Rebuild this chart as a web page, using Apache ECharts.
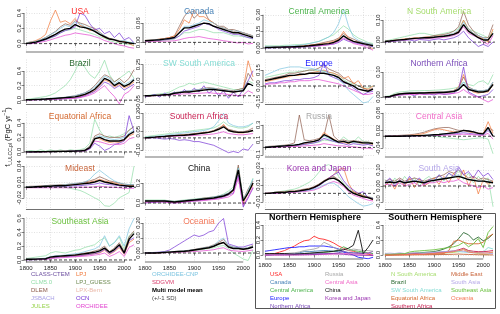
<!DOCTYPE html>
<html><head><meta charset="utf-8">
<script src="https://cdn.jsdelivr.net/npm/echarts@6/dist/echarts.min.js"></script>
<style>html,body{margin:0;padding:0;background:#fff}#c{width:500px;height:314px}</style>
</head><body><div id="c"></div>
<script>
const years = [1800,1810,1820,1830,1840,1850,1860,1870,1880,1890,1900,1910,1920,1930,1940,1950,1960,1970,1980,1990,2000,2010,2020];
const xTicks = [1800,1850,1900,1950,2000];
// model rows order for every region
const modelNames = ['CLM5.0','DLEM','LPJ','OCN','ORCHIDEE','ORCHIDEE-CNP'];

// ---- USA
const usaMean = [0.00,0.01,0.02,0.04,0.06,0.09,0.12,0.16,0.19,0.20,0.25,0.22,0.21,0.19,0.16,0.12,0.09,0.06,0.05,0.03,0.02,0.01,0.00];
const usaSd = [0.005,0.008,0.01,0.015,0.02,0.03,0.04,0.05,0.06,0.06,0.06,0.06,0.05,0.05,0.05,0.04,0.04,0.035,0.03,0.03,0.03,0.03,0.03];
const usaModels = [
 [0.0,0.01,0.02,0.03,0.05,0.07,0.1,0.14,0.17,0.18,0.2,0.18,0.16,0.14,0.12,0.09,0.07,0.04,0.02,0.01,0.0,-0.01,-0.02],
 [0.01,0.02,0.03,0.05,0.08,0.12,0.16,0.22,0.26,0.24,0.3,0.27,0.25,0.22,0.2,0.15,0.1,0.07,0.05,0.04,0.03,0.01,0.0],
 [0.01,0.02,0.04,0.07,0.12,0.3,0.44,0.28,0.3,0.26,0.33,0.24,0.22,0.17,0.19,0.12,0.08,0.06,0.05,0.02,0.03,0.0,-0.03],
 [0.0,0.0,0.01,0.03,0.05,0.08,0.1,0.14,0.17,0.19,0.22,0.4,0.37,0.26,0.18,0.2,0.13,0.16,0.08,0.14,0.05,0.08,0.01],
 [0.0,0.0,0.01,0.02,0.03,0.05,0.07,0.09,0.11,0.12,0.14,0.13,0.12,0.11,0.09,0.07,0.04,0.02,0.0,-0.02,-0.03,-0.05,-0.06],
 [0.01,0.02,0.03,0.05,0.08,0.12,0.15,0.2,0.24,0.22,0.28,0.26,0.22,0.2,0.17,0.14,0.1,0.06,0.05,0.03,0.04,0.02,0.01]];
// ---- Canada
const canMean = [0.005,0.006,0.007,0.008,0.01,0.012,0.015,0.03,0.045,0.045,0.05,0.055,0.06,0.058,0.05,0.045,0.04,0.035,0.03,0.03,0.025,0.02,0.015];
const canSd = [0.003,0.003,0.004,0.004,0.005,0.006,0.008,0.012,0.02,0.022,0.025,0.025,0.025,0.022,0.02,0.02,0.018,0.016,0.015,0.014,0.013,0.012,0.012];
const canModels = [
 [0.002,0.003,0.004,0.005,0.006,0.008,0.01,0.02,0.03,0.03,0.035,0.04,0.04,0.035,0.03,0.03,0.03,0.025,0.02,0.02,0.018,0.015,0.01],
 [0.005,0.006,0.008,0.01,0.012,0.015,0.02,0.05,0.08,0.1,0.075,0.09,0.1,0.07,0.06,0.05,0.05,0.04,0.04,0.035,0.03,0.025,0.02],
 [0.006,0.007,0.008,0.01,0.012,0.015,0.02,0.04,0.07,0.06,0.1,0.08,0.08,0.07,0.06,0.05,0.045,0.04,0.035,0.03,0.03,0.025,0.02],
 [0.004,0.005,0.006,0.007,0.008,0.01,0.012,0.02,0.035,0.04,0.045,0.05,0.06,0.055,0.05,0.04,0.035,0.03,0.025,0.025,0.02,0.015,0.012],
 [0.002,0.002,0.003,0.003,0.004,0.004,0.005,0.008,0.012,0.015,0.016,0.018,0.015,0.012,0.01,0.008,0.005,0.003,0.0,-0.002,0.0,-0.005,-0.003],
 [0.006,0.007,0.008,0.009,0.01,0.012,0.015,0.03,0.05,0.05,0.055,0.06,0.07,0.065,0.06,0.05,0.045,0.04,0.035,0.035,0.03,0.025,0.02]];
// ---- Central America
const camMean = [0.005,0.006,0.007,0.008,0.009,0.01,0.012,0.014,0.016,0.02,0.025,0.03,0.035,0.04,0.05,0.07,0.11,0.08,0.06,0.05,0.04,0.03,0.02];
const camSd = [0.003,0.003,0.003,0.003,0.004,0.004,0.005,0.006,0.007,0.008,0.01,0.012,0.015,0.018,0.025,0.035,0.05,0.04,0.03,0.025,0.02,0.02,0.02];
const camModels = [
 [0.02,0.02,0.02,0.02,0.025,0.025,0.03,0.03,0.035,0.04,0.05,0.06,0.08,0.1,0.12,0.16,0.2,0.17,0.12,0.09,0.07,0.05,0.04],
 [0.005,0.005,0.006,0.007,0.008,0.01,0.012,0.015,0.02,0.025,0.03,0.04,0.05,0.06,0.07,0.09,0.13,0.1,0.08,0.06,0.05,0.04,0.03],
 [0.004,0.005,0.006,0.008,0.01,0.012,0.015,0.018,0.02,0.025,0.03,0.035,0.04,0.05,0.06,0.08,0.15,0.09,0.06,0.05,0.035,0.02,-0.01],
 [0.0,0.0,0.002,0.003,0.004,0.005,0.006,0.008,0.01,0.012,0.015,0.02,0.025,0.03,0.035,0.05,0.08,0.06,0.05,0.04,0.03,0.02,0.01],
 [0.005,0.005,0.005,0.006,0.007,0.008,0.009,0.01,0.012,0.015,0.018,0.02,0.025,0.03,0.04,0.06,0.09,0.07,0.04,0.03,0.02,0.0,-0.02],
 [0.01,0.01,0.01,0.012,0.015,0.018,0.02,0.025,0.03,0.04,0.05,0.06,0.08,0.1,0.14,0.22,0.35,0.2,0.1,0.07,0.05,0.04,0.03]];
// ---- N South America
const nsaMean = [0.003,0.005,0.008,0.01,0.012,0.015,0.017,0.018,0.02,0.02,0.022,0.025,0.027,0.03,0.035,0.045,0.08,0.05,0.035,0.02,0.01,0.01,0.04];
const nsaSd = [0.003,0.003,0.004,0.005,0.006,0.007,0.008,0.008,0.009,0.01,0.01,0.01,0.011,0.012,0.013,0.016,0.025,0.02,0.016,0.014,0.012,0.012,0.015];
const nsaModels = [
 [0.005,0.01,0.015,0.02,0.025,0.03,0.035,0.04,0.04,0.035,0.03,0.035,0.04,0.045,0.05,0.06,0.1,0.06,0.05,0.04,0.03,0.02,0.05],
 [0.003,0.005,0.008,0.01,0.012,0.015,0.018,0.02,0.022,0.025,0.03,0.032,0.035,0.04,0.05,0.07,0.14,0.08,0.05,0.03,0.02,0.02,0.08],
 [0.004,0.006,0.009,0.012,0.015,0.017,0.019,0.02,0.022,0.023,0.025,0.028,0.03,0.033,0.038,0.05,0.1,0.06,0.04,0.025,0.015,0.0,0.06],
 [0.0,0.002,0.004,0.006,0.008,0.01,0.005,0.012,0.01,0.008,0.012,0.015,0.01,0.015,0.02,0.03,0.05,0.02,0.0,-0.02,-0.01,-0.02,0.0],
 [0.002,0.004,0.006,0.008,0.01,0.012,0.014,0.015,0.016,0.017,0.018,0.02,0.022,0.025,0.03,0.04,0.07,0.04,0.03,0.02,0.0,-0.01,0.03],
 [0.004,0.006,0.008,0.01,0.012,0.014,0.016,0.018,0.02,0.022,0.024,0.026,0.03,0.035,0.04,0.055,0.09,0.06,0.04,0.03,0.02,0.01,0.04]];
// ---- Brazil
const braMean = [0.005,0.007,0.01,0.012,0.015,0.02,0.025,0.03,0.035,0.04,0.045,0.06,0.08,0.11,0.15,0.22,0.3,0.27,0.2,0.24,0.19,0.22,0.28];
const braSd = [0.005,0.006,0.008,0.01,0.012,0.015,0.02,0.025,0.03,0.035,0.04,0.04,0.04,0.04,0.045,0.05,0.06,0.06,0.06,0.06,0.06,0.06,0.07];
const braModels = [
 [0.01,0.02,0.03,0.04,0.05,0.07,0.1,0.15,0.2,0.28,0.4,0.55,0.45,0.35,0.3,0.4,0.55,0.35,0.25,0.3,0.35,0.4,0.3],
 [0.005,0.008,0.01,0.012,0.015,0.02,0.025,0.03,0.04,0.05,0.06,0.08,0.1,0.14,0.2,0.28,0.35,0.32,0.25,0.3,0.24,0.3,0.42],
 [0.004,0.006,0.008,0.01,0.012,0.016,0.02,0.025,0.03,0.035,0.04,0.055,0.07,0.1,0.13,0.2,0.28,0.25,0.18,0.22,0.17,0.2,0.25],
 [0.0,0.002,0.004,0.006,0.008,0.01,0.012,0.015,0.02,0.025,0.03,0.04,0.06,0.09,0.12,0.18,0.25,0.22,0.16,0.2,0.14,0.18,0.22],
 [0.002,0.004,0.006,0.008,0.01,0.012,0.014,0.016,0.02,0.022,0.025,0.035,0.05,0.07,0.1,0.15,0.2,0.12,0.05,-0.05,0.08,0.12,0.2],
 [0.005,0.008,0.012,0.015,0.02,0.025,0.03,0.035,0.04,0.05,0.06,0.08,0.1,0.13,0.18,0.25,0.33,0.3,0.22,0.27,0.21,0.25,0.3]];
// ---- SW South America
const swsMean = [0.0,0.0,0.003,0.005,0.008,0.01,0.02,0.025,0.03,0.03,0.035,0.04,0.045,0.05,0.05,0.045,0.04,0.035,0.03,0.035,0.04,0.1,0.08];
const swsSd = [0.005,0.005,0.006,0.008,0.01,0.012,0.015,0.018,0.02,0.022,0.025,0.025,0.025,0.025,0.025,0.025,0.022,0.02,0.02,0.022,0.025,0.05,0.05];
const swsModels = [
 [0.0,0.005,0.01,0.015,0.02,0.03,0.05,0.07,0.08,0.1,0.09,0.1,0.11,0.1,0.09,0.08,0.07,0.06,0.05,0.05,0.06,0.12,0.1],
 [0.0,0.0,0.005,0.008,0.01,0.015,0.025,0.03,0.035,0.04,0.045,0.05,0.06,0.065,0.06,0.055,0.05,0.045,0.04,0.05,0.06,0.18,0.12],
 [0.0,0.0,0.002,0.005,0.008,0.01,0.02,0.025,0.03,0.035,0.04,0.045,0.05,0.055,0.05,0.045,0.04,0.035,0.03,0.035,0.05,0.28,0.15],
 [-0.01,0.0,0.01,-0.01,0.02,0.0,0.03,0.01,0.05,0.02,0.06,0.03,0.08,0.02,0.05,0.0,0.04,-0.02,0.03,-0.01,0.05,0.12,0.2],
 [0.0,0.0,0.0,0.002,0.004,0.006,0.01,0.012,0.015,0.015,0.018,0.02,0.022,0.025,0.02,0.018,0.015,0.01,0.005,0.0,0.005,0.04,0.02],
 [0.0,0.002,0.004,0.006,0.01,0.015,0.025,0.03,0.035,0.04,0.045,0.05,0.055,0.06,0.06,0.05,0.045,0.04,0.035,0.04,0.05,0.1,0.08]];
// ---- Europe
const eurMean = [0.05,0.06,0.07,0.08,0.09,0.1,0.1,0.11,0.11,0.12,0.12,0.12,0.12,0.11,0.1,0.08,0.04,0.02,0.0,-0.03,-0.04,-0.05,-0.03];
const eurSd = [0.03,0.03,0.03,0.035,0.035,0.04,0.04,0.04,0.04,0.045,0.045,0.045,0.045,0.045,0.045,0.045,0.04,0.04,0.04,0.04,0.04,0.04,0.04];
const eurModels = [
 [0.08,0.09,0.1,0.11,0.12,0.13,0.13,0.14,0.14,0.15,0.15,0.14,0.14,0.13,0.12,0.1,0.06,0.03,0.02,0.0,-0.02,-0.02,0.0],
 [0.06,0.07,0.08,0.09,0.1,0.12,0.12,0.13,0.14,0.15,0.15,0.17,0.2,0.16,0.14,0.12,0.08,0.05,0.03,0.0,-0.02,-0.04,-0.02],
 [0.04,0.05,0.06,0.07,0.08,0.09,0.1,0.1,0.11,0.12,0.13,0.14,0.15,0.13,0.12,0.1,0.07,0.09,0.02,0.05,-0.02,-0.03,0.0],
 [0.02,0.03,0.03,0.04,0.05,0.05,0.06,0.06,0.07,0.07,0.08,0.1,0.22,0.1,0.08,0.06,0.03,0.02,-0.02,-0.05,-0.08,-0.06,-0.05],
 [0.01,0.02,0.02,0.03,0.03,0.04,0.04,0.05,0.05,0.05,0.06,0.06,0.05,0.04,0.03,0.02,0.0,-0.02,-0.04,-0.06,-0.08,-0.08,-0.07],
 [0.1,0.12,0.14,0.16,0.17,0.18,0.18,0.18,0.17,0.17,0.16,0.15,0.14,0.12,0.1,0.06,0.02,-0.04,-0.08,-0.12,-0.16,-0.15,-0.1]];
// ---- Northern Africa
const nafMean = [0.0,0.002,0.008,0.012,0.014,0.015,0.015,0.016,0.016,0.017,0.017,0.018,0.018,0.02,0.022,0.03,0.05,0.03,0.025,0.02,0.02,0.025,0.05];
const nafSd = [0.002,0.003,0.004,0.005,0.005,0.006,0.006,0.006,0.006,0.007,0.007,0.007,0.008,0.008,0.009,0.012,0.02,0.015,0.013,0.013,0.014,0.015,0.02];
const nafModels = [
 [0.002,0.005,0.015,0.02,0.022,0.024,0.025,0.025,0.026,0.026,0.027,0.028,0.03,0.032,0.035,0.04,0.06,0.05,0.045,0.06,0.065,0.05,0.09],
 [0.0,0.002,0.01,0.014,0.015,0.016,0.017,0.018,0.018,0.019,0.02,0.02,0.021,0.023,0.026,0.035,0.08,0.04,0.03,0.025,0.025,0.03,0.06],
 [0.0,0.002,0.008,0.012,0.013,0.014,0.015,0.015,0.016,0.016,0.017,0.018,0.019,0.02,0.025,0.04,0.09,0.035,0.02,0.015,0.02,0.02,0.05],
 [0.0,0.0,0.005,0.008,0.01,0.012,0.005,0.015,0.01,0.012,0.008,0.015,0.01,0.012,0.015,0.03,0.12,0.02,0.01,0.0,0.005,0.01,0.03],
 [0.0,0.001,0.005,0.008,0.009,0.01,0.01,0.011,0.011,0.012,0.012,0.012,0.012,0.013,0.014,0.018,0.03,0.015,0.005,0.0,-0.01,-0.02,-0.01],
 [0.0,0.002,0.009,0.013,0.015,0.016,0.016,0.017,0.017,0.018,0.018,0.019,0.02,0.022,0.025,0.035,0.06,0.035,0.03,0.025,0.025,0.03,0.06]];
// ---- Equatorial Africa
const eqaMean = [0.0,0.0,0.002,0.003,0.004,0.005,0.006,0.007,0.008,0.01,0.012,0.015,0.02,0.06,0.18,0.2,0.17,0.15,0.15,0.15,0.17,0.24,0.28];
const eqaSd = [0.003,0.003,0.004,0.004,0.005,0.006,0.007,0.008,0.009,0.01,0.012,0.015,0.02,0.04,0.06,0.06,0.05,0.05,0.05,0.05,0.05,0.06,0.07];
const eqaModels = [
 [0.01,0.02,0.01,0.03,0.01,0.03,0.01,0.03,0.01,0.03,0.02,0.03,0.05,0.12,0.45,0.3,0.2,0.22,0.2,0.22,0.25,0.3,0.35],
 [0.0,0.0,0.003,0.004,0.005,0.006,0.008,0.01,0.012,0.014,0.016,0.02,0.03,0.08,0.22,0.25,0.22,0.2,0.2,0.2,0.22,0.3,0.35],
 [0.0,0.0,0.002,0.003,0.004,0.005,0.006,0.007,0.008,0.01,0.012,0.015,0.02,0.07,0.2,0.18,0.15,0.13,0.14,0.13,0.16,0.22,0.25],
 [0.0,0.0,0.0,0.002,0.003,0.004,0.005,0.006,0.006,0.008,0.01,0.012,0.015,0.04,0.12,0.08,0.02,0.05,0.1,0.12,0.15,0.5,0.28],
 [0.0,0.0,0.001,0.002,0.003,0.004,0.005,0.006,0.007,0.008,0.01,0.012,0.015,0.05,0.15,0.14,0.12,0.1,0.11,0.1,0.12,0.18,0.2],
 [0.0,0.001,0.003,0.004,0.005,0.006,0.007,0.008,0.01,0.012,0.014,0.018,0.025,0.07,0.2,0.22,0.2,0.18,0.17,0.18,0.2,0.26,0.3]];
// ---- Southern Africa
const safMean = [0.0,0.003,0.006,0.01,0.012,0.015,0.018,0.02,0.022,0.025,0.03,0.035,0.04,0.045,0.055,0.07,0.09,0.06,0.05,0.045,0.045,0.05,0.06];
const safSd = [0.005,0.006,0.007,0.008,0.009,0.01,0.012,0.014,0.016,0.018,0.02,0.022,0.024,0.026,0.03,0.035,0.04,0.035,0.035,0.035,0.035,0.035,0.04];
const safModels = [
 [0.01,0.015,0.02,0.025,0.03,0.035,0.04,0.045,0.05,0.055,0.06,0.065,0.07,0.075,0.08,0.1,0.13,0.1,0.09,0.08,0.08,0.09,0.12],
 [0.0,0.004,0.008,0.012,0.015,0.018,0.022,0.025,0.028,0.03,0.035,0.04,0.045,0.05,0.06,0.08,0.1,0.07,0.06,0.05,0.05,0.06,0.08],
 [0.0,0.003,0.006,0.01,0.012,0.015,0.018,0.02,0.022,0.025,0.03,0.035,0.04,0.045,0.055,0.07,0.11,0.06,0.05,0.04,0.04,0.05,0.06],
 [0.0,0.0,0.0,-0.005,-0.01,-0.005,-0.01,-0.02,-0.015,-0.02,-0.03,-0.03,-0.04,-0.05,-0.06,-0.08,-0.1,-0.12,-0.11,-0.12,-0.09,-0.1,-0.05],
 [0.0,0.002,0.004,0.006,0.008,0.01,0.012,0.014,0.016,0.018,0.02,0.022,0.025,0.028,0.032,0.04,0.05,0.035,0.03,0.025,0.025,0.03,0.035],
 [0.005,0.008,0.012,0.016,0.02,0.025,0.03,0.035,0.04,0.045,0.05,0.055,0.06,0.07,0.09,0.14,0.2,0.12,0.1,0.09,0.09,0.1,0.12]];
// ---- Russia
const rusMean = [0.0,0.005,0.01,0.015,0.02,0.025,0.03,0.04,0.06,0.07,0.08,0.1,0.17,0.14,0.1,0.07,0.08,0.06,0.08,0.07,0.06,0.06,0.05];
const rusSd = [0.005,0.008,0.01,0.012,0.014,0.016,0.02,0.025,0.03,0.035,0.04,0.045,0.06,0.05,0.04,0.035,0.035,0.035,0.035,0.035,0.035,0.035,0.035];
const rusModels = [
 [0.0,0.004,0.008,0.012,0.016,0.02,0.025,0.03,0.04,0.05,0.06,0.07,0.1,0.09,0.08,0.07,0.14,0.09,0.07,0.14,0.08,0.07,0.06],
 [0.01,0.015,0.02,0.025,0.03,0.04,0.06,0.43,0.1,0.09,0.1,0.12,0.15,0.43,0.15,0.09,0.1,0.08,0.09,0.08,0.07,0.07,0.06],
 [0.0,0.005,0.01,0.015,0.02,0.025,0.03,0.04,0.05,0.06,0.08,0.1,0.2,0.15,0.11,0.07,0.07,0.05,0.08,0.06,0.05,0.05,0.04],
 [0.0,0.0,0.005,0.01,0.01,0.015,0.02,0.03,0.04,0.05,0.06,0.08,0.12,0.1,0.08,0.06,0.05,0.03,0.05,0.04,0.03,0.04,0.02],
 [0.0,0.002,0.004,0.006,0.008,0.01,0.012,0.015,0.02,0.025,0.03,0.035,0.05,0.04,0.03,0.02,0.02,0.01,0.01,0.0,-0.01,-0.01,-0.02],
 [0.005,0.01,0.015,0.02,0.025,0.03,0.035,0.045,0.06,0.07,0.08,0.1,0.15,0.12,0.09,0.07,0.08,0.06,0.07,0.06,0.06,0.05,0.05]];
// ---- Central Asia
const casMean = [0.0,0.0,0.0,0.0,0.001,0.001,0.002,0.002,0.003,0.004,0.005,0.006,0.008,0.01,0.012,0.015,0.02,0.018,0.015,0.01,0.008,0.03,0.0];
const casSd = [0.001,0.001,0.001,0.002,0.002,0.002,0.003,0.003,0.004,0.004,0.005,0.006,0.007,0.008,0.009,0.01,0.012,0.012,0.012,0.01,0.01,0.012,0.015];
const casModels = [
 [0.0,0.0,0.0,0.0,0.0,0.0,0.0,0.0,0.0,0.0,0.0,-0.002,-0.004,-0.006,-0.008,-0.01,-0.012,-0.01,-0.008,-0.006,-0.005,-0.01,-0.06],
 [0.0,0.001,0.002,0.003,0.004,0.005,0.007,0.01,0.014,0.02,0.025,0.028,0.03,0.03,0.025,0.02,0.02,0.018,0.015,0.012,0.01,0.03,0.02],
 [0.0,0.0,0.001,0.001,0.002,0.003,0.004,0.006,0.01,0.016,0.022,0.025,0.022,0.018,0.015,0.015,0.02,0.015,0.012,0.01,0.008,0.05,0.01],
 [0.0,0.0,0.0,0.0,0.0,0.001,0.001,0.002,0.002,0.003,0.004,0.005,0.006,0.007,0.008,0.01,0.012,0.01,0.008,0.006,0.005,0.02,0.0],
 [0.0,0.0,0.0,0.0,0.0,0.0,0.001,0.001,0.001,0.002,0.002,0.003,0.003,0.004,0.005,0.006,0.007,0.006,0.005,0.004,0.003,0.01,-0.01],
 [0.0,0.0,0.0,0.0,0.001,0.001,0.002,0.002,0.003,0.004,0.005,0.006,0.008,0.01,0.012,0.015,0.02,0.018,0.015,0.01,0.008,0.025,0.0]];
// ---- Mideast
const mdeMean = [0.0,0.0,0.001,0.001,0.002,0.002,0.003,0.003,0.003,0.004,0.005,0.006,0.007,0.008,0.01,0.013,0.01,0.008,0.006,0.004,0.003,0.002,0.002];
const mdeSd = [0.002,0.002,0.002,0.003,0.003,0.003,0.003,0.004,0.004,0.004,0.005,0.005,0.006,0.007,0.009,0.012,0.014,0.014,0.012,0.01,0.008,0.007,0.007];
const mdeModels = [
 [0.0,0.0,0.0,0.0,0.0,0.0,0.0,0.0,0.0,-0.002,-0.004,-0.006,-0.01,-0.015,-0.02,-0.025,-0.035,-0.036,-0.03,-0.02,-0.015,-0.01,0.04],
 [0.001,0.002,0.002,0.003,0.003,0.004,0.004,0.005,0.005,0.006,0.007,0.008,0.01,0.012,0.015,0.02,0.016,0.012,0.01,0.008,0.006,0.005,0.005],
 [0.0,0.001,0.001,0.002,0.002,0.003,0.003,0.004,0.004,0.005,0.006,0.007,0.008,0.01,0.012,0.015,0.012,0.01,0.008,0.006,0.004,0.003,0.003],
 [0.0,0.0,0.0,0.0,0.001,0.001,0.001,0.002,0.002,0.002,0.003,0.003,0.004,0.005,0.006,0.008,0.006,0.005,0.004,0.003,0.002,0.001,0.001],
 [-0.001,-0.001,-0.001,-0.001,-0.001,-0.001,-0.001,-0.001,-0.001,-0.001,0.0,0.0,0.0,0.0,0.001,0.002,0.001,0.0,0.0,-0.001,-0.002,-0.002,-0.002],
 [0.001,0.001,0.002,0.002,0.003,0.003,0.004,0.004,0.005,0.006,0.007,0.008,0.01,0.015,0.025,0.032,0.025,0.018,0.012,0.008,0.006,0.005,0.005]];
// ---- China
const chnMean = [0.02,0.02,0.02,0.02,0.02,0.015,0.01,0.015,0.02,0.025,0.03,0.035,0.04,0.045,0.05,0.06,0.07,0.09,0.13,0.33,0.02,0.1,0.2];
const chnSd = [0.01,0.01,0.01,0.01,0.01,0.01,0.01,0.01,0.012,0.014,0.016,0.018,0.02,0.022,0.024,0.026,0.03,0.035,0.04,0.05,0.03,0.04,0.05];
const chnModels = [
 [0.03,0.03,0.03,0.03,0.03,0.02,0.02,0.025,0.03,0.035,0.04,0.045,0.05,0.055,0.06,0.07,0.09,0.12,0.16,0.36,0.04,0.12,0.25],
 [0.02,0.02,0.02,0.02,0.025,0.02,0.015,0.02,0.025,0.03,0.035,0.04,0.05,0.055,0.06,0.07,0.08,0.1,0.14,0.38,0.03,0.14,0.22],
 [0.01,0.01,0.015,0.015,0.015,0.01,0.005,0.01,0.015,0.02,0.025,0.03,0.035,0.04,0.045,0.055,0.065,0.08,0.12,0.32,0.0,0.1,0.18],
 [0.0,0.005,0.005,0.01,0.01,0.005,0.0,0.005,0.01,0.015,0.02,0.025,0.03,0.035,0.04,0.05,0.06,0.08,0.1,0.28,-0.04,0.05,0.15],
 [0.01,0.01,0.01,0.01,0.01,0.005,0.0,0.005,0.01,0.015,0.02,0.02,0.025,0.03,0.035,0.04,0.05,0.06,0.09,0.25,-0.02,0.06,0.16],
 [0.02,0.02,0.025,0.025,0.025,0.02,0.015,0.02,0.025,0.03,0.035,0.04,0.045,0.05,0.06,0.07,0.08,0.1,0.14,0.35,0.03,0.12,0.24]];
// ---- Korea and Japan
const kjpMean = [0.0,0.0,0.001,0.001,0.001,0.002,0.002,0.003,0.004,0.005,0.007,0.01,0.014,0.017,0.018,0.015,0.01,0.004,0.0,-0.002,-0.004,-0.005,-0.007];
const kjpSd = [0.001,0.001,0.001,0.001,0.002,0.002,0.002,0.003,0.003,0.004,0.005,0.006,0.007,0.008,0.008,0.008,0.007,0.006,0.005,0.004,0.004,0.004,0.004];
const kjpModels = [
 [0.0,0.0,0.001,0.002,0.003,0.004,0.005,0.007,0.01,0.013,0.018,0.025,0.032,0.034,0.03,0.02,0.012,0.006,0.002,0.0,-0.002,-0.004,-0.005],
 [0.0,0.001,0.001,0.002,0.002,0.003,0.003,0.004,0.005,0.006,0.008,0.011,0.015,0.018,0.02,0.016,0.01,0.004,0.001,-0.001,-0.003,-0.004,-0.006],
 [0.0,0.0,0.001,0.001,0.001,0.002,0.002,0.003,0.004,0.005,0.007,0.01,0.014,0.018,0.022,0.028,0.03,0.012,0.002,0.0,-0.003,-0.005,-0.008],
 [0.0,0.0,0.0,0.001,0.001,0.001,0.002,0.002,0.003,0.004,0.006,0.009,0.013,0.018,0.022,0.025,0.015,0.008,0.004,0.0,0.002,-0.005,-0.006],
 [0.0,0.0,0.0,0.0,0.001,0.001,0.001,0.002,0.002,0.003,0.004,0.006,0.009,0.012,0.014,0.012,0.008,0.002,-0.002,-0.004,-0.006,-0.008,-0.009],
 [0.0,0.0,0.001,0.001,0.001,0.002,0.002,0.003,0.003,0.004,0.005,0.007,0.01,0.012,0.012,0.008,0.002,-0.004,-0.008,-0.012,-0.015,-0.014,-0.012]];
// ---- South Asia
const sasMean = [0.02,0.025,0.02,0.03,0.02,0.025,0.03,0.025,0.02,0.03,0.035,0.04,0.045,0.05,0.055,0.06,0.05,0.04,0.035,0.03,0.03,0.025,0.02];
const sasSd = [0.015,0.015,0.015,0.015,0.015,0.015,0.015,0.015,0.015,0.02,0.02,0.02,0.025,0.025,0.025,0.025,0.025,0.025,0.025,0.025,0.025,0.025,0.025];
const sasModels = [
 [0.04,0.0,0.05,0.01,0.06,0.02,0.05,0.0,0.04,0.06,0.02,0.07,0.03,0.08,0.05,0.1,0.04,0.08,0.02,0.06,0.03,0.05,-0.13],
 [0.03,0.04,0.03,0.05,0.03,0.04,0.05,0.04,0.03,0.04,0.05,0.06,0.07,0.09,0.08,0.1,0.07,0.05,0.06,0.04,0.05,0.04,0.03],
 [0.0,0.03,-0.02,0.04,0.0,0.05,-0.01,0.04,0.0,0.02,0.05,0.01,0.06,0.02,0.08,0.04,0.1,0.0,0.06,-0.05,0.04,0.01,0.03],
 [0.02,0.05,0.0,0.04,0.01,0.06,0.02,0.05,0.01,0.04,0.03,0.07,0.04,0.08,0.06,0.12,0.07,0.09,0.05,0.1,0.06,0.08,0.04],
 [0.01,0.01,0.0,0.02,0.0,0.01,0.02,0.0,0.01,0.02,0.02,0.03,0.02,0.03,0.03,0.04,0.02,0.01,0.0,-0.01,0.0,-0.02,-0.01],
 [0.02,0.03,0.02,0.03,0.02,0.03,0.03,0.03,0.02,0.03,0.04,0.04,0.05,0.05,0.06,0.07,0.05,0.04,0.04,0.03,0.03,0.03,0.02]];
// ---- Southeast Asia
const seaMean = [0.01,0.01,0.012,0.015,0.018,0.04,0.05,0.055,0.06,0.065,0.07,0.08,0.09,0.1,0.11,0.13,0.17,0.11,0.15,0.22,0.1,0.3,0.38];
const seaSd = [0.005,0.005,0.006,0.007,0.008,0.015,0.02,0.02,0.022,0.024,0.026,0.028,0.03,0.032,0.035,0.04,0.05,0.04,0.045,0.05,0.045,0.06,0.07];
const seaModels = [
 [0.02,0.03,0.04,0.05,0.06,0.1,0.12,0.11,0.1,0.12,0.14,0.15,0.18,0.2,0.22,0.28,0.32,0.2,0.25,0.33,0.15,0.35,0.4],
 [0.01,0.012,0.014,0.016,0.02,0.045,0.055,0.06,0.065,0.07,0.08,0.09,0.1,0.11,0.13,0.15,0.2,0.12,0.17,0.25,0.12,0.33,0.42],
 [0.005,0.006,0.008,0.01,0.012,0.03,0.04,0.045,0.05,0.055,0.06,0.065,0.07,0.08,0.09,0.1,0.14,0.08,0.12,0.18,0.08,0.25,0.3],
 [0.0,0.002,0.004,0.006,0.008,0.025,0.035,0.04,0.045,0.05,0.055,0.06,0.07,0.08,0.09,0.11,0.15,0.09,0.13,0.2,0.09,0.28,0.32],
 [0.005,0.005,0.006,0.008,0.01,0.02,0.025,0.03,0.035,0.04,0.045,0.05,0.055,0.06,0.07,0.08,0.1,0.05,0.08,0.12,0.05,0.18,0.22],
 [0.01,0.012,0.015,0.02,0.025,0.05,0.06,0.065,0.07,0.08,0.09,0.1,0.12,0.14,0.16,0.2,0.35,0.2,0.25,0.35,0.2,0.45,0.6]];
// ---- Oceania
const ocnMean = [0.0,0.0,0.0,0.002,0.004,0.006,0.008,0.01,0.012,0.015,0.02,0.025,0.03,0.035,0.045,0.06,0.07,0.04,0.03,0.03,0.025,0.03,0.04];
const ocnSd = [0.002,0.002,0.003,0.003,0.004,0.005,0.006,0.007,0.008,0.01,0.012,0.014,0.016,0.018,0.02,0.025,0.03,0.02,0.018,0.018,0.018,0.02,0.025];
const ocnModels = [
 [0.0,0.0,0.0,0.002,0.003,0.005,0.006,0.008,0.01,0.012,0.015,0.02,0.025,0.03,0.035,0.045,0.05,0.03,0.0,-0.02,-0.04,-0.05,0.02],
 [0.0,0.0,0.002,0.004,0.006,0.008,0.01,0.012,0.015,0.018,0.024,0.03,0.036,0.042,0.055,0.07,0.09,0.05,0.04,0.035,0.03,0.035,0.05],
 [0.0,0.0,0.0,0.002,0.004,0.006,0.008,0.01,0.012,0.015,0.02,0.025,0.03,0.035,0.045,0.06,0.07,0.04,0.03,0.03,0.025,0.03,0.04],
 [0.0,0.002,0.004,0.006,0.01,0.02,0.04,0.06,0.08,0.1,0.12,0.11,0.12,0.14,0.15,0.2,0.23,0.06,0.05,0.04,0.04,0.05,0.06],
 [0.0,0.0,0.0,0.001,0.002,0.003,0.004,0.005,0.006,0.008,0.01,0.012,0.015,0.018,0.022,0.03,0.035,0.02,0.015,0.012,0.01,0.015,0.02],
 [0.0,0.001,0.002,0.004,0.006,0.008,0.01,0.012,0.015,0.018,0.022,0.028,0.034,0.04,0.05,0.08,0.1,0.05,0.04,0.035,0.03,0.035,0.045]];

const modelColors = {'CLM5.0':'#8fdca6','DLEM':'#8c5a4a','LPJ':'#f07636','OCN':'#7432d4','ORCHIDEE':'#e244d0','ORCHIDEE-CNP':'#7cc4e0'};

const regions = [
 {name:'USA', c:'#ff2b2b', mean:usaMean, sd:usaSd, models:usaModels, ticks:[0,0.2,0.4], dec:1, range:[-0.11,0.48]},
 {name:'Canada', c:'#4a84b8', mean:canMean, sd:canSd, models:canModels, ticks:[0,0.06], dec:2, range:[-0.03,0.11]},
 {name:'Central America', c:'#4cb34c', mean:camMean, sd:camSd, models:camModels, ticks:[0,0.15,0.3], dec:2, range:[-0.036,0.37]},
 {name:'N South America', c:'#a6dc6e', mean:nsaMean, sd:nsaSd, models:nsaModels, ticks:[0,0.1], dec:2, range:[-0.045,0.16]},
 {name:'Brazil', c:'#2e6b34', mean:braMean, sd:braSd, models:braModels, ticks:[0,0.2,0.4], dec:1, range:[-0.06,0.56]},
 {name:'SW South America', c:'#84dcd4', mean:swsMean, sd:swsSd, models:swsModels, ticks:[-0.05,0.1,0.25], dec:2, range:[-0.07,0.29]},
 {name:'Europe', c:'#2222ff', mean:eurMean, sd:eurSd, models:eurModels, ticks:[-0.15,0,0.15], dec:2, range:[-0.175,0.25]},
 {name:'Northern Africa', c:'#7a4cb8', mean:nafMean, sd:nafSd, models:nafModels, ticks:[0,0.1], dec:2, range:[-0.03,0.15]},
 {name:'Equatorial Africa', c:'#d4682e', mean:eqaMean, sd:eqaSd, models:eqaModels, ticks:[0,0.2,0.4], dec:1, range:[-0.07,0.55]},
 {name:'Southern Africa', c:'#c81e50', mean:safMean, sd:safSd, models:safModels, ticks:[-0.1,0.05,0.2], dec:2, range:[-0.155,0.21]},
 {name:'Russia', c:'#a8a8a8', mean:rusMean, sd:rusSd, models:rusModels, ticks:[-0.1,0.1,0.3], dec:1, range:[-0.127,0.47]},
 {name:'Central Asia', c:'#f06cc8', mean:casMean, sd:casSd, models:casModels, ticks:[-0.04,0.02,0.08], dec:2, range:[-0.071,0.083]},
 {name:'Mideast', c:'#c8643a', legend:'Middle East', mean:mdeMean, sd:mdeSd, models:mdeModels, ticks:[-0.02,0.01,0.04], dec:2, range:[-0.042,0.043]},
 {name:'China', c:'#111111', mean:chnMean, sd:chnSd, models:chnModels, ticks:[0,0.2], dec:1, range:[-0.065,0.385]},
 {name:'Korea and Japan', c:'#9a32b0', mean:kjpMean, sd:kjpSd, models:kjpModels, ticks:[-0.01,0.01,0.03], dec:2, range:[-0.019,0.034]},
 {name:'South Asia', c:'#b4a6e8', mean:sasMean, sd:sasSd, models:sasModels, ticks:[-0.1,0,0.1], dec:2, range:[-0.147,0.134]},
 {name:'Southeast Asia', c:'#6cc040', mean:seaMean, sd:seaSd, models:seaModels, ticks:[0,0.2,0.4,0.6], dec:1, range:[-0.03,0.62]},
 {name:'Oceania', c:'#f4785a', mean:ocnMean, sd:ocnSd, models:ocnModels, ticks:[0,0.1,0.2], dec:2, range:[-0.06,0.24]}
];
const nhNames = ['USA','Canada','Central America','Europe','Northern Africa','Russia','Central Asia','China','Korea and Japan'];
const shNames = ['N South America','Brazil','SW South America','Equatorial Africa','Southern Africa','Mideast','South Asia','Southeast Asia','Oceania'];
const hemiTicks = [0,0.2,0.4];

const legendModels = [
 ['CLASS-CTEM','#6a4c9e'],['CLM5.0','#8fdca6'],['DLEM','#8c5a4a'],['JSBACH','#a8a0e6'],['JULES','#96d24a'],
 ['LPJ','#f07636'],['LPJ_GUESS','#6e8a52'],['LPX-Bern','#eab8a8'],['OCN','#7432d4'],['ORCHIDEE','#e244d0'],
 ['ORCHIDEE-CNP','#7cc4e0'],['SDGVM','#d83a6a']];

const FONT = 'Liberation Sans, Arial, Helvetica, sans-serif';
const colLeft = [24,143,263,383], W = 112, rowTop = [7,59.5,112,164.5,217], H = 45;
const XMIN = 1796, XMAX = 2024;
const grids=[], xAxes=[], yAxes=[], series=[], graphics=[];
const axisCol = '#333';
const LF = '6px ';

function addAxes(i, left, top, h, ticks, dec, range, showX){
  grids.push({left:left, top:top, width:W, height:h, containLabel:false});
  xAxes.push({gridIndex:i, type:'value', min:XMIN, max:XMAX, axisLine:{show:false},
    axisTick:{show:true, length:2.5, customValues:xTicks, lineStyle:{color:axisCol,width:0.6}},
    axisLabel:{show:showX, customValues:xTicks, fontSize:6, margin:3, color:'#222', fontFamily:FONT, formatter:v=>String(Math.round(v))},
    splitLine:{show:true, lineStyle:{color:'#cfcfcf', type:[1,1.5], width:0.6}}});
  yAxes.push({gridIndex:i, type:'value', min:range[0], max:range[1], axisLine:{show:false},
    axisTick:{show:true, length:2.5, customValues:ticks, lineStyle:{color:axisCol,width:0.6}},
    axisLabel:{customValues:ticks, rotate:90, fontSize:6, margin:2, color:'#222', fontFamily:FONT,
      formatter:v=>Number(v).toFixed(dec)},
    splitLine:{show:true, lineStyle:{color:'#cfcfcf', type:[1,1.5], width:0.6}}});
  series.push({type:'line', xAxisIndex:i, yAxisIndex:i, silent:true, symbol:'none', clip:false, z:5,
    lineStyle:{color:axisCol, width:0.7}, data:[[XMIN,ticks[0]],[XMIN,ticks[ticks.length-1]]]});
  series.push({type:'line', xAxisIndex:i, yAxisIndex:i, silent:true, symbol:'none', clip:false, z:5,
    lineStyle:{color:axisCol, width:0.7}, data:[[xTicks[0],range[0]],[xTicks[xTicks.length-1],range[0]]]});
}

regions.forEach((p,i)=>{
  const r=Math.floor(i/4), c=i%4;
  addAxes(i, colLeft[c], rowTop[r], H, p.ticks, p.dec, p.range, r===4);
  const lo = years.map((y,k)=>[y, p.mean[k]-p.sd[k]]);
  const span = years.map((y,k)=>[y, 2*p.sd[k]]);
  series.push({type:'line', xAxisIndex:i, yAxisIndex:i, stack:'b'+i, stackStrategy:'all', silent:true, symbol:'none',
    lineStyle:{opacity:0}, data:lo, z:1});
  series.push({type:'line', xAxisIndex:i, yAxisIndex:i, stack:'b'+i, stackStrategy:'all', silent:true, symbol:'none',
    lineStyle:{opacity:0}, areaStyle:{color:'#a0a0a0', opacity:0.65}, data:span, z:1});
  p.models.forEach((row,m)=>{
    series.push({type:'line', xAxisIndex:i, yAxisIndex:i, silent:true, symbol:'none', z:2,
      lineStyle:{color:modelColors[modelNames[m]], width:0.7}, data:years.map((y,k)=>[y,row[k]])});
  });
  series.push({type:'line', xAxisIndex:i, yAxisIndex:i, silent:true, symbol:'none', z:3,
    lineStyle:{color:'#000', width:0.7, type:[3,2]}, data:[[XMIN,0],[XMAX,0]]});
  series.push({type:'line', xAxisIndex:i, yAxisIndex:i, silent:true, symbol:'none', z:4,
    lineStyle:{color:'#000', width:1.4}, data:years.map((y,k)=>[y,p.mean[k]])});
  graphics.push({type:'text', x:colLeft[c]+W/2, y:rowTop[r]+4.5, z:100,
    style:{text:p.name, fill:p.c, font:'8.5px '+FONT, textAlign:'center', textVerticalAlign:'middle'}});
});

[[nhNames,18,263,'Northern Hemisphere'],[shNames,19,383,'Southern Hemisphere']].forEach(([names,i,left,title])=>{
  addAxes(i, left, 220, 39, hemiTicks, 1, [-0.053,0.467], true);
  names.forEach(n=>{
    const p = regions.find(q=>q.name===n);
    series.push({type:'line', xAxisIndex:i, yAxisIndex:i, silent:true, symbol:'none', z:3,
      lineStyle:{color:p.c, width:0.9}, data:years.map((y,k)=>[y,p.mean[k]])});
  });
  graphics.push({type:'text', x:left+W/2-4, y:218, z:100,
    style:{text:title, fill:'#000', font:'bold 9px '+FONT, textAlign:'center', textVerticalAlign:'middle'}});
});
graphics.push({type:'rect', shape:{x:255.5, y:213.5, width:240, height:95}, z:90,
  style:{fill:null, stroke:'#555', lineWidth:1}});

const rowsY=[274,282,290,298,306];
legendModels.forEach((m,k)=>{
  const col = Math.floor(k/5), row = k%5;
  graphics.push({type:'text', x:[31,76,152][col], y:rowsY[row], z:100,
    style:{text:m[0], fill:m[1], font:LF+FONT, textVerticalAlign:'middle'}});
});
graphics.push({type:'text', x:152, y:rowsY[2], z:100, style:{text:'Multi model mean', fill:'#000', font:'bold '+LF+FONT, textVerticalAlign:'middle'}});
graphics.push({type:'text', x:152, y:rowsY[3], z:100, style:{text:'(+/-1 SD)', fill:'#444', font:LF+FONT, textVerticalAlign:'middle'}});
nhNames.forEach((n,k)=>{
  const p = regions.find(q=>q.name===n);
  graphics.push({type:'text', x:[270,325][Math.floor(k/5)], y:rowsY[k%5], z:100,
    style:{text:p.legend||p.name, fill:p.c, font:LF+FONT, textVerticalAlign:'middle'}});
});
shNames.forEach((n,k)=>{
  const p = regions.find(q=>q.name===n);
  graphics.push({type:'text', x:[391,451][Math.floor(k/5)], y:rowsY[k%5], z:100,
    style:{text:p.legend||p.name, fill:p.c, font:LF+FONT, textVerticalAlign:'middle'}});
});
graphics.push({type:'text', x:8, y:137, rotation:Math.PI/2, z:100,
  style:{text:'{a|f}{s|LULCC,pl}{a| (PgC yr}{p|−1}{a|)}', textAlign:'center', textVerticalAlign:'middle',
    rich:{a:{fontSize:7.5, fontFamily:FONT, fill:'#222', lineHeight:11},
          s:{fontSize:5, fontFamily:FONT, fill:'#222', verticalAlign:'bottom', lineHeight:11},
          p:{fontSize:5, fontFamily:FONT, fill:'#222', verticalAlign:'top', lineHeight:11}}}});

const chart = echarts.init(document.getElementById('c'), null, {renderer:'canvas'});
chart.setOption({animation:false, backgroundColor:'#fff', grid:grids, xAxis:xAxes, yAxis:yAxes, series:series, graphic:graphics});
</script></body></html>
